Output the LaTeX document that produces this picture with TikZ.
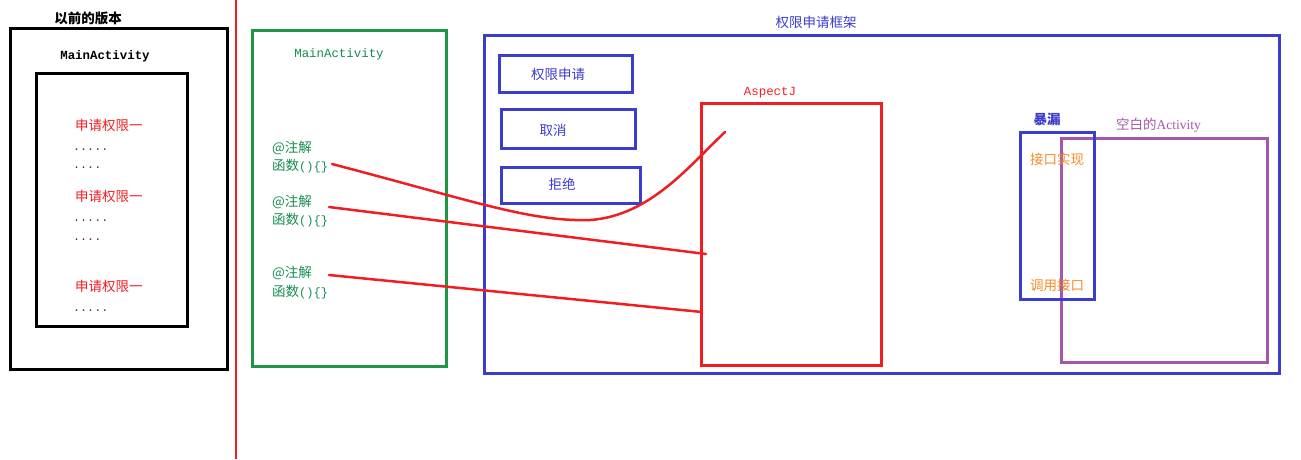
\documentclass[tikz,border=0pt]{standalone}
\usepackage{fontspec}
\setmainfont{Liberation Serif}
\newfontfamily\cjk{Noto Sans CJK SC}
\newfontfamily\mono{Liberation Mono}
\usetikzlibrary{fit}
\definecolor{fwblue}{RGB}{60,60,205}
\definecolor{grn}{RGB}{30,150,70}
\definecolor{gtxt}{RGB}{20,140,80}
\definecolor{redc}{RGB}{240,30,35}
\definecolor{purp}{RGB}{165,85,170}
\definecolor{orng}{RGB}{245,140,40}
\definecolor{dotc}{RGB}{100,40,50}
\newcommand{\fnparen}{{\mono\fontsize{12}{14}\selectfont()\{\}}}
\tikzset{
  box/.style={draw, inner sep=0pt, line width=3pt},
  cn/.style={font=\cjk\fontsize{13.5}{15}\selectfont, inner sep=0pt},
  mn/.style={font=\mono\fontsize{12.4}{14}\selectfont, inner sep=0pt},
  dots/.style={font=\mono\fontsize{11.7}{13}\selectfont, text=dotc, inner sep=0pt, anchor=west},
  link/.style={draw=redc, line width=2.5pt, line cap=round},
}
\begin{document}
\begin{tikzpicture}[x=1pt,y=-1pt]
\useasboundingbox (0,0) rectangle (1301,459);
% left panel
\node[cn, font=\cjk\bfseries\fontsize{13.5}{15}\selectfont] (oldtitle) at (88,18) {以前的版本};
\node[box, fit={(10,28) (227,369)}] (oldouter) {};
\node[mn, font=\mono\bfseries\fontsize{12.4}{14}\selectfont] (oldma) at (105,56) {MainActivity};
\node[box, fit={(36,73) (187,326)}] (oldinner) {};
\node[cn, text=redc, anchor=west] (r1) at (75,125) {申请权限一};
\node[dots] (d1) at (73,150) {.....};
\node[dots] (d2) at (73,168) {....};
\node[cn, text=redc, anchor=west] (r2) at (75,196) {申请权限一};
\node[dots] (d3) at (73,221) {.....};
\node[dots] (d4) at (73,240) {....};
\node[cn, text=redc, anchor=west] (r3) at (75,286) {申请权限一};
\node[dots] (d5) at (73,311) {.....};
% divider
\coordinate (divtop) at (236,0);
\coordinate (divbot) at (236,459);
\draw[redc, line width=2pt] (divtop) -- (divbot);
% green MainActivity
\node[box, draw=grn, fit={(252,30) (446,366)}] (greenbox) {};
\node[mn, text=gtxt] (gma) at (339,54) {MainActivity};
\node[cn, text=gtxt, anchor=west] (a1) at (272,148) {@注解};
\node[cn, text=gtxt, anchor=west] (f1) at (272,166) {函数\fnparen};
\node[cn, text=gtxt, anchor=west] (a2) at (272,202) {@注解};
\node[cn, text=gtxt, anchor=west] (f2) at (272,220) {函数\fnparen};
\node[cn, text=gtxt, anchor=west] (a3) at (272,273) {@注解};
\node[cn, text=gtxt, anchor=west] (f3) at (272,292) {函数\fnparen};
% framework
\node[cn, text=fwblue] (fwtitle) at (816,22) {权限申请框架};
\node[box, draw=fwblue, fit={(484,35) (1279,373)}] (fw) {};
\node[box, draw=fwblue, fit={(499,55) (632,92)}] (bapply) {};
\node[cn, text=fwblue] (tapply) at (558,74) {权限申请};
\node[box, draw=fwblue, fit={(501,109) (635,148)}] (bcancel) {};
\node[cn, text=fwblue] (tcancel) at (553,130) {取消};
\node[box, draw=fwblue, fit={(501,167) (640,203)}] (breject) {};
\node[cn, text=fwblue] (treject) at (562,184) {拒绝};
\node[box, draw=redc, fit={(701,103) (881,365)}] (aspect) {};
\node[mn, text=redc] (aspectlbl) at (770,93) {AspectJ};
\node[box, draw=purp, fit={(1061,138) (1267,362)}] (blank) {};
\node[cn, text=purp, anchor=west] (blanklbl) at (1116,125) {空白的{\rmfamily Activity}};
\node[box, draw=fwblue, fit={(1020,132) (1094,299)}] (expose) {};
\node[cn, text=fwblue, font=\cjk\bfseries\fontsize{13.5}{15}\selectfont] (exposelbl) at (1047,119) {暴漏};
\node[cn, text=orng] (impl) at (1057,159) {接口实现};
\node[cn, text=orng] (call) at (1057,285) {调用接口};
% connectors
\coordinate (s1) at (332,164);
\coordinate (m1) at (590,220);
\coordinate (e1) at (725,132);
\coordinate (s2) at (329,207);
\coordinate (e2) at (706,254);
\coordinate (s3) at (329,275);
\coordinate (e3) at (702,312);
\draw[link] (s1) .. controls (470,200) and (530,222) .. (m1) .. controls (650,216) and (690,165) .. (e1);
\draw[link] (s2) -- (e2);
\draw[link] (s3) -- (e3);
\end{tikzpicture}
\end{document}
